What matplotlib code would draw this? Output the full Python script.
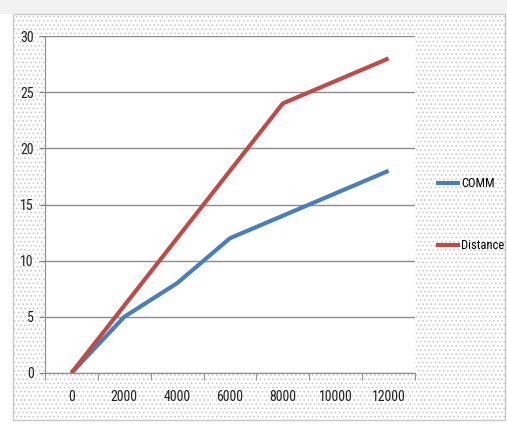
import matplotlib
matplotlib.use("Agg")
import matplotlib.pyplot as plt
from matplotlib import font_manager
from matplotlib.patches import Rectangle

# data
categories = ["0", "2000", "4000", "6000", "8000", "10000", "12000"]
comm = [0, 5, 8, 12, 14, 16, 18]
distance = [0, 6, 12, 18, 24, 26, 28]
y_ticks = [0, 5, 10, 15, 20, 25, 30]

installed = {f.name for f in font_manager.fontManager.ttflist}
font = "DejaVu Sans"
for cand in ["Liberation Sans Narrow", "Roboto Condensed", "Open Sans Condensed", "Liberation Sans"]:
    if cand in installed:
        font = cand
        break
plt.rcParams["font.family"] = [font, "DejaVu Sans"]
plt.rcParams["hatch.color"] = "#b0b0b0"
plt.rcParams["hatch.linewidth"] = 0.6

W, H = 507, 426
fig = plt.figure(figsize=(W / 100, H / 100), dpi=100, facecolor="white")

# dotted chart area background
bg = fig.add_axes([0, 0, 1, 1])
bg.set_xlim(0, W)
bg.set_ylim(H, 0)
bg.axis("off")
bg.add_patch(Rectangle((0, 0), W, 14, facecolor="#f2f2f2", edgecolor="none"))
bg.add_patch(Rectangle((13, 14), W - 15, H - 20, facecolor="white",
                       edgecolor="#c8c8c8", hatch="....", lw=1.0))

ax = fig.add_axes([45 / W, 1 - 373 / H, 370 / W, 337 / H])
ax.set_facecolor("white")
x = list(range(len(categories)))
ax.plot(x, comm, color="#4a7ebb", lw=3, label="COMM", solid_capstyle="butt")
ax.plot(x, distance, color="#be4b48", lw=3, label="Distance", solid_capstyle="butt")

ax.set_xlim(-0.5, len(categories) - 0.5)
ax.set_ylim(0, 30)
ax.set_yticks(y_ticks)
ax.set_xticks(x)
ax.set_xticklabels(categories)
ax.set_xticks([i - 0.5 for i in range(len(categories) + 1)], minor=True)
ax.tick_params(axis="x", which="major", length=0, pad=12, labelsize=10, colors="#222222")
ax.tick_params(axis="x", which="minor", length=5, color="#808080", direction="out")
ax.tick_params(axis="y", length=4, color="#808080", labelsize=10, colors="#222222", pad=4)
ax.yaxis.grid(True, color="#8c8c8c", lw=1.0)
ax.set_axisbelow(True)
for side in ["top", "right"]:
    ax.spines[side].set_visible(False)
for side in ["left", "bottom"]:
    ax.spines[side].set_color("#8c8c8c")

leg = ax.legend(loc="upper left", bbox_to_anchor=(430 / W, 1 - 171 / H),
                bbox_transform=fig.transFigure, frameon=False, fontsize=9,
                handlelength=1.9, handletextpad=0.1, labelspacing=3.9,
                borderpad=0)
for line in leg.get_lines():
    line.set_linewidth(3)

fig.savefig("out.png", dpi=100, facecolor="white")
